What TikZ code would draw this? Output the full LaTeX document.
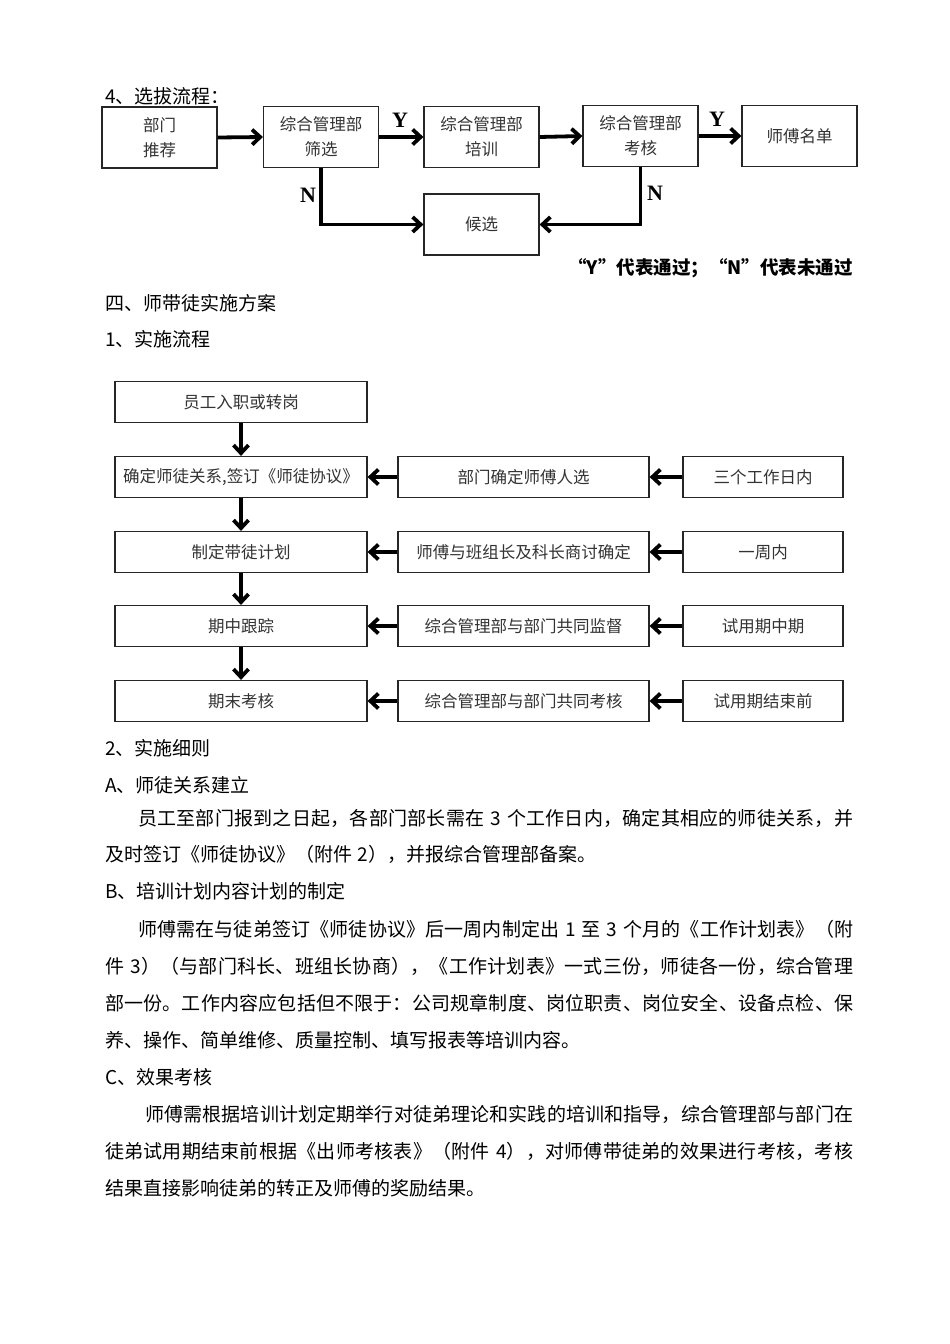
\documentclass[tikz,border=0pt]{standalone}
\usepackage{fontspec}
\setmainfont{Noto Sans CJK SC}
\newfontfamily\latserif{Liberation Serif}
\usetikzlibrary{arrows.meta}
\makeatletter
\newcommand\hs{\kern0.3em}
\newcommand\jline[2]{\makebox[#1][s]{\@tfor\jc:=#2\do{\jc\hskip0pt plus 1pt}\unskip}}
\makeatother
\begin{document}
\begin{tikzpicture}[x=1pt,y=-1pt,
  box/.style={draw=black!85, line width=1.2pt, minimum width=115pt, minimum height=61pt,
    inner sep=0pt, align=center, font=\fontsize{16.5}{25}\selectfont, text=black!80},
  fbox/.style={draw=black!85, line width=1.2pt, minimum height=41pt, inner sep=0pt,
    font=\fontsize{16.5}{20}\selectfont, text=black!80},
  arr/.style={line width=3.8pt, -{Straight Barb[length=8pt,width=15pt]}},
  txt/.style={anchor=west, inner sep=0pt, font=\fontsize{19}{19}\selectfont},
  yn/.style={inner sep=0pt, font=\latserif\bfseries\fontsize{22}{22}\selectfont}
]
\useasboundingbox[fill=white] (0,0) rectangle (950,1344);

% ---------- selection flow ----------
\node[txt] (t4) at (105,96) {4、选拔流程：};
\node[box] (tb1) at (159.5,137.5) {部门\\推荐};
\node[box] (tb2) at (321,137) {综合管理部\\筛选};
\node[box] (tb3) at (481.5,137) {综合管理部\\培训};
\node[box] (tb4) at (640.5,136) {综合管理部\\考核};
\node[box] (tb5) at (799.5,136) {师傅名单};
\node[box] (tb6) at (481.5,224.5) {候选};

\draw[arr] (tb1.east) -- (tb2.west);
\draw[arr] (tb2.east) -- (tb3.west);
\draw[arr] (tb3.east) -- (tb4.west);
\draw[arr] (tb4.east) -- (tb5.west);
\draw[arr] (tb2.south) |- (tb6.west);
\draw[arr] (tb4.south) |- (tb6.east);

\node[yn] (y1) at (400,120) {Y};
\node[yn] (y2) at (717,119) {Y};
\node[yn] (n1) at (308,195) {N};
\node[yn] (n2) at (655,193) {N};

\node[anchor=east, inner sep=0pt, font=\bfseries\fontsize{18.5}{19}\selectfont] (legend) at (853,268) {“Y”代表通过；“N”代表未通过};

\node[txt] (h4) at (105,303) {四、师带徒实施方案};
\node[txt] (h41) at (105,339) {1、实施流程};

% ---------- implementation flow ----------
\node[fbox, minimum width=252pt] (l0) at (241,402) {员工入职或转岗};
\node[fbox, minimum width=252pt] (l1) at (241,477) {确定师徒关系,签订《师徒协议》};
\node[fbox, minimum width=252pt] (l2) at (241,552) {制定带徒计划};
\node[fbox, minimum width=252pt] (l3) at (241,626) {期中跟踪};
\node[fbox, minimum width=252pt] (l4) at (241,701) {期末考核};

\node[fbox, minimum width=251pt] (m1) at (523.5,477) {部门确定师傅人选};
\node[fbox, minimum width=251pt] (m2) at (523.5,552) {师傅与班组长及科长商讨确定};
\node[fbox, minimum width=251pt] (m3) at (523.5,626) {综合管理部与部门共同监督};
\node[fbox, minimum width=251pt] (m4) at (523.5,701) {综合管理部与部门共同考核};

\node[fbox, minimum width=160pt] (r1) at (763,477) {三个工作日内};
\node[fbox, minimum width=160pt] (r2) at (763,552) {一周内};
\node[fbox, minimum width=160pt] (r3) at (763,626) {试用期中期};
\node[fbox, minimum width=160pt] (r4) at (763,701) {试用期结束前};

\draw[arr] (l0) -- (l1);
\draw[arr] (l1) -- (l2);
\draw[arr] (l2) -- (l3);
\draw[arr] (l3) -- (l4);
\foreach \i in {1,2,3,4}{
  \draw[arr] (r\i.west) -- (m\i.east);
  \draw[arr] (m\i.west) -- (l\i.east);
}

% ---------- body text ----------
\node[txt] (p1) at (105,748) {2、实施细则};
\node[txt] (p2) at (105,785) {A、师徒关系建立};
\node[txt] (p3) at (138,818) {\jline{715pt}{员工至部门报到之日起，各部门部长需在\hs 3\hs 个工作日内，确定其相应的师徒关系，并}};
\node[txt] (p4) at (105,854) {及时签订《师徒协议》（附件\hs 2），并报综合管理部备案。};
\node[txt] (p5) at (105,891) {B、培训计划内容计划的制定};
\node[txt] (p6) at (138,929) {\jline{715pt}{师傅需在与徒弟签订《师徒协议》后一周内制定出\hs 1\hs 至\hs 3\hs 个月的《工作计划表》（附}};
\node[txt] (p7) at (105,966) {\jline{748pt}{件\hs 3）（与部门科长、班组长协商），《工作计划表》一式三份，师徒各一份，综合管理}};
\node[txt] (p8) at (105,1003) {\jline{748pt}{部一份。工作内容应包括但不限于：公司规章制度、岗位职责、岗位安全、设备点检、保}};
\node[txt] (p9) at (105,1040) {养、操作、简单维修、质量控制、填写报表等培训内容。};
\node[txt] (p10) at (105,1077) {C、效果考核};
\node[txt] (p11) at (145,1114) {\jline{708pt}{师傅需根据培训计划定期举行对徒弟理论和实践的培训和指导，综合管理部与部门在}};
\node[txt] (p12) at (105,1151) {\jline{748pt}{徒弟试用期结束前根据《出师考核表》（附件\hs 4），对师傅带徒弟的效果进行考核，考核}};
\node[txt] (p13) at (105,1188) {结果直接影响徒弟的转正及师傅的奖励结果。};
\end{tikzpicture}
\end{document}
